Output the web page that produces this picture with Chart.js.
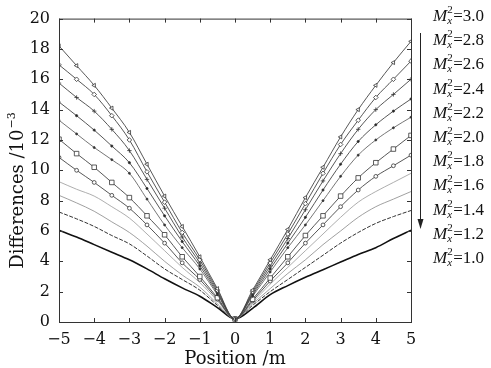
<!DOCTYPE html>
<html>
<head>
<meta charset="utf-8">
<script src="https://cdn.jsdelivr.net/npm/chart.js@4/dist/chart.umd.min.js"></script>
<style>
  html, body { margin: 0; padding: 0; background: #fff; }
  #wrap { width: 491px; height: 368px; position: relative; }
</style>
</head>
<body>
<div id="wrap"><canvas id="myChart"></canvas></div>
<script>
// data block
const positions = [-5, -4.5, -4, -3.5, -3, -2.5, -2, -1.5, -1, -0.5, 0, 0.5, 1, 1.5, 2, 2.5, 3, 3.5, 4, 4.5, 5];
const m30 = [18.2, 16.9, 15.6, 14.1, 12.5, 10.4, 8.3, 6.3, 4.3, 2.2, 0.2, 2.1, 4.1, 6.1, 8.2, 10.2, 12.2, 14.0, 15.6, 17.1, 18.5];
const m28 = [16.95, 16.0, 15.0, 13.6, 12.0, 9.9, 7.9, 5.9, 4.1, 2.1, 0.2, 2.0, 3.9, 5.8, 7.8, 9.8, 11.7, 13.3, 14.8, 16.0, 17.2];
const m26 = [15.75, 14.8, 13.9, 12.7, 11.3, 9.4, 7.5, 5.6, 3.9, 2.0, 0.2, 1.9, 3.7, 5.5, 7.4, 9.3, 11.1, 12.7, 14.0, 15.0, 16.0];
const m24 = [14.5, 13.6, 12.65, 11.6, 10.5, 8.8, 7.0, 5.3, 3.7, 1.9, 0.2, 1.8, 3.5, 5.2, 6.9, 8.7, 10.4, 11.9, 13.0, 13.9, 14.7];
const m22 = [13.3, 12.4, 11.5, 10.7, 9.8, 8.1, 6.4, 4.9, 3.5, 1.8, 0.2, 1.7, 3.3, 4.9, 6.4, 8.0, 9.6, 11.0, 12.0, 12.8, 13.5];
const m20 = [12.05, 11.1, 10.2, 9.2, 8.2, 7.0, 5.75, 4.3, 3.0, 1.6, 0.2, 1.5, 2.9, 4.3, 5.7, 7.0, 8.3, 9.5, 10.5, 11.4, 12.3];
const m18 = [10.85, 10.0, 9.2, 8.35, 7.5, 6.4, 5.2, 3.9, 2.8, 1.5, 0.2, 1.4, 2.7, 3.9, 5.2, 6.4, 7.6, 8.7, 9.6, 10.3, 11.0];
const m16 = [9.25, 8.75, 8.3, 7.6, 6.85, 5.8, 4.7, 3.6, 2.6, 1.4, 0.2, 1.3, 2.5, 3.6, 4.7, 5.8, 6.9, 7.9, 8.6, 9.2, 9.8];
const m14 = [8.35, 7.85, 7.3, 6.6, 5.9, 5.0, 4.0, 3.1, 2.3, 1.2, 0.2, 1.2, 2.2, 3.2, 4.1, 5.1, 6.0, 6.9, 7.6, 8.1, 8.6];
const m12 = [7.25, 6.8, 6.3, 5.7, 5.15, 4.35, 3.5, 2.8, 2.1, 1.1, 0.2, 1.1, 2.0, 2.8, 3.6, 4.4, 5.2, 5.9, 6.5, 6.95, 7.35];
const m10 = [6.05, 5.6, 5.1, 4.6, 4.1, 3.5, 2.85, 2.25, 1.7, 0.95, 0.2, 0.9, 1.8, 2.4, 2.95, 3.45, 3.95, 4.45, 4.9, 5.5, 6.05];
const legendLabels = ["3.0", "2.8", "2.6", "2.4", "2.2", "2.0", "1.8", "1.6", "1.4", "1.2", "1.0"];

const SERIF = "'DejaVu Serif', 'Liberation Serif', serif";
const TIMES = "'Liberation Serif', serif";

function pts(values) {
  return positions.map((x, i) => ({ x: x, y: values[i] }));
}

// one entry per curve: values + look
function series(label, values, style) {
  return Object.assign({
    label: label,
    data: pts(values),
    borderColor: "#444",
    borderWidth: 0.9,
    backgroundColor: "#fff",
    pointBorderColor: "#333",
    pointBorderWidth: 0.8,
    pointRadius: 0,
    cubicInterpolationMode: "monotone",
    fill: false,
  }, style);
}

const data = {
  datasets: [
    series("3.0", m30, { pointStyle: "triangle", pointRadius: 2.3, pointRotation: -90 }),
    series("2.8", m28, { pointStyle: "rectRot", pointRadius: 2.3 }),
    series("2.6", m26, { pointStyle: "cross", pointRadius: 2.2 }),
    series("2.4", m24, { pointStyle: "circle", pointRadius: 1.1, backgroundColor: "#222" }),
    series("2.2", m22, { pointStyle: "circle", pointRadius: 1.0, backgroundColor: "#333", borderColor: "#666" }),
    series("2.0", m20, { pointStyle: "rect", pointRadius: 3.2 }),
    series("1.8", m18, { pointStyle: "circle", pointRadius: 1.9 }),
    series("1.6", m16, { borderColor: "#999", borderWidth: 0.8 }),
    series("1.4", m14, { borderColor: "#888", borderWidth: 0.8 }),
    series("1.2", m12, { borderColor: "#333", borderWidth: 1, borderDash: [4, 1.5] }),
    series("1.0", m10, { borderColor: "#111", borderWidth: 1.6 }),
  ],
};

// frame, inward ticks, y title and the M_x^2 list
const decorations = {
  id: "decorations",
  afterDraw(chart) {
    const ctx = chart.ctx;
    const a = chart.chartArea;
    const xs = chart.scales.x;
    const ys = chart.scales.y;
    ctx.save();
    ctx.strokeStyle = "#333";
    ctx.lineWidth = 1;
    ctx.strokeRect(a.left + 0.5, a.top + 0.5, a.right - a.left, a.bottom - a.top);
    ctx.beginPath();
    xs.ticks.forEach((t) => {
      const px = Math.round(xs.getPixelForValue(t.value)) + 0.5;
      ctx.moveTo(px, a.bottom); ctx.lineTo(px, a.bottom - 4);
      ctx.moveTo(px, a.top); ctx.lineTo(px, a.top + 4);
    });
    ys.ticks.forEach((t) => {
      const py = Math.round(ys.getPixelForValue(t.value)) + 0.5;
      ctx.moveTo(a.left, py); ctx.lineTo(a.left + 4, py);
      ctx.moveTo(a.right, py); ctx.lineTo(a.right - 4, py);
    });
    ctx.stroke();

    // y axis title
    ctx.fillStyle = "#111";
    ctx.save();
    ctx.translate(23, 191);
    ctx.rotate(-Math.PI / 2);
    ctx.textBaseline = "alphabetic";
    const main = "Differences /10";
    ctx.font = "18px " + SERIF;
    const w1 = ctx.measureText(main).width;
    ctx.font = "11px " + SERIF;
    const w2 = ctx.measureText("\u22123").width;
    const start = -(w1 + w2) / 2;
    ctx.font = "18px " + SERIF;
    ctx.textAlign = "left";
    ctx.fillText(main, start, 0);
    ctx.font = "11px " + SERIF;
    ctx.fillText("\u22123", start + w1 + 1, -8);
    ctx.restore();

    // legend list
    legendLabels.forEach((lab, i) => {
      const y = 21 + i * 24.2;
      let x = 433;
      ctx.textAlign = "left";
      ctx.textBaseline = "alphabetic";
      ctx.font = "italic 17px " + TIMES;
      ctx.fillText("M", x, y);
      x += ctx.measureText("M").width;
      ctx.font = "11px " + TIMES;
      ctx.fillText("2", x, y - 8);
      ctx.font = "italic 11px " + TIMES;
      ctx.fillText("x", x, y + 3);
      x += 6;
      ctx.font = "17px " + TIMES;
      ctx.fillText("=" + lab, x, y);
    });

    // arrow
    ctx.strokeStyle = "#222";
    ctx.lineWidth = 1;
    ctx.beginPath();
    ctx.moveTo(420.5, 33);
    ctx.lineTo(420.5, 226);
    ctx.stroke();
    ctx.fillStyle = "#222";
    ctx.beginPath();
    ctx.moveTo(417.5, 219);
    ctx.lineTo(423.5, 219);
    ctx.lineTo(420.5, 229);
    ctx.closePath();
    ctx.fill();
    ctx.restore();
  },
};

const config = {
  type: "line",
  data,
  options: {
    responsive: true,
    maintainAspectRatio: false,
    animation: false,
    layout: { padding: { top: 15, right: 80, left: 0, bottom: 0 } },
    plugins: {
      legend: { display: false },
      tooltip: { enabled: false },
    },
    scales: {
      x: {
        type: "linear",
        min: -5,
        max: 5,
        grid: { display: false, drawTicks: false },
        border: { display: false },
        ticks: {
          stepSize: 1,
          padding: 8,
          color: "#111",
          font: { family: SERIF, size: 16 },
          callback: (v) => (v < 0 ? "\u2212" + Math.abs(v) : String(v)),
        },
        title: {
          display: true,
          text: "Position /m",
          color: "#111",
          font: { family: SERIF, size: 18, lineHeight: 1 },
          padding: { top: 0, bottom: 0 },
        },
        afterFit: (scale) => { scale.height = 46; },
      },
      y: {
        min: 0,
        max: 20,
        grid: { display: false, drawTicks: false },
        border: { display: false },
        ticks: {
          stepSize: 2,
          padding: 9,
          color: "#111",
          font: { family: SERIF, size: 16 },
        },
        afterFit: (scale) => { scale.width = 59; },
      },
    },
  },
  plugins: [decorations],
};

// render init block
const myChart = new Chart(document.getElementById("myChart"), config);
</script>
</body>
</html>
